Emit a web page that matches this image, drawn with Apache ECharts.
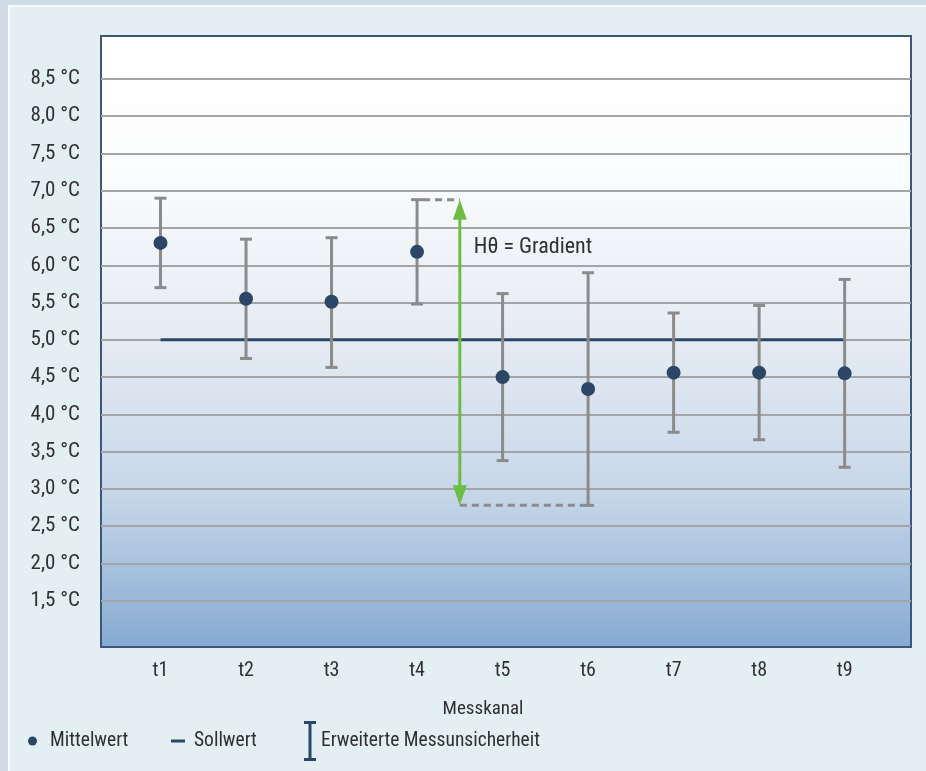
<!DOCTYPE html>
<html>
<head>
<meta charset="utf-8">
<script src="https://cdn.jsdelivr.net/npm/echarts@6/dist/echarts.min.js"></script>
<style>
  html, body { margin: 0; padding: 0; width: 926px; height: 771px; overflow: hidden; background: #cfdce5; }
  #panel { position: absolute; left: 8px; top: 5px; right: 0; bottom: 0; background: #e4eff4;
           border-left: 2px solid #f8fbfd; border-top: 2px solid #f8fbfd; }
  #chart { position: absolute; left: 0; top: 0; width: 926px; height: 771px; }
</style>
</head>
<body>
<div id="panel"></div>
<div id="chart"></div>
<script>
// Messkanäle und Messwerte (°C)
const channels = ['t1', 't2', 't3', 't4', 't5', 't6', 't7', 't8', 't9'];
const meanValues  = [6.30, 5.55, 5.51, 6.18, 4.50, 4.34, 4.56, 4.56, 4.55];
const upperLimits = [6.90, 6.35, 6.37, 6.88, 5.62, 5.90, 5.36, 5.46, 5.81];
const lowerLimits = [5.70, 4.75, 4.63, 5.48, 3.38, 2.78, 3.76, 3.66, 3.29];
const setpoint = 5.0;
const yTicks = [1.5, 2.0, 2.5, 3.0, 3.5, 4.0, 4.5, 5.0, 5.5, 6.0, 6.5, 7.0, 7.5, 8.0, 8.5];
// Gradient: vom oberen Ende bei t4 bis zum unteren Ende bei t6
const gradientFrom = 't4';
const gradientTo = 't6';

const FONT = "'Roboto Condensed', 'Liberation Sans Narrow', 'DejaVu Sans Condensed', sans-serif";
const NAVY = '#2b4667';
const BAR_GRAY = '#8b8b8b';
const GREEN = '#6cbd44';
const TEXT = '#303030';

const xPos = channels.map((c, i) => i + 1);
const fromIdx = channels.indexOf(gradientFrom);
const toIdx = channels.indexOf(gradientTo);

const chart = echarts.init(document.getElementById('chart'), null, { renderer: 'canvas' });

function fmtC(v) {
  return v.toFixed(1).replace('.', ',') + ' °C';
}

const legendText = { color: TEXT, fontSize: 19.5, fontFamily: FONT };

const option = {
  animation: false,
  backgroundColor: 'transparent',
  textStyle: { fontFamily: FONT },
  grid: {
    left: 101, right: 15, top: 36, bottom: 124,
    show: true,
    borderColor: '#3d5779',
    borderWidth: 2,
    backgroundColor: new echarts.graphic.LinearGradient(0, 0, 0, 1, [
      { offset: 0, color: '#ffffff' },
      { offset: 0.2, color: '#fcfdfe' },
      { offset: 0.5, color: '#e5ebf3' },
      { offset: 0.75, color: '#c6d6e8' },
      { offset: 1, color: '#86aad2' }
    ])
  },
  xAxis: {
    type: 'value',
    min: 0.304,
    max: 9.776,
    axisLine: { show: false },
    axisTick: { show: false },
    splitLine: { show: false },
    axisLabel: {
      customValues: xPos,
      formatter: v => channels[Math.round(v) - 1] || '',
      color: TEXT,
      fontSize: 20,
      fontFamily: FONT,
      margin: 14
    },
    name: 'Messkanal',
    nameLocation: 'middle',
    nameGap: 53,
    nameTextStyle: { color: TEXT, fontSize: 19, fontFamily: FONT, padding: [0, 46, 0, 0] }
  },
  yAxis: {
    type: 'value',
    min: 0.88,
    max: 9.075,
    axisLine: { show: false },
    axisTick: { show: false, customValues: yTicks },
    splitLine: { show: true, lineStyle: { color: '#a2a4a7', width: 2 } },
    axisLabel: {
      customValues: yTicks,
      formatter: fmtC,
      color: TEXT,
      fontSize: 21,
      fontFamily: FONT,
      margin: 21
    }
  },
  legend: [
    {
      left: 28, top: 731, padding: 0, selectedMode: false,
      itemWidth: 9, itemHeight: 9,
      data: [{ name: 'Mittelwert', icon: 'circle', itemStyle: { color: NAVY } }],
      textStyle: Object.assign({ padding: [0, 0, 0, 8] }, legendText)
    },
    {
      left: 171, top: 731, padding: 0, selectedMode: false,
      itemWidth: 14, itemHeight: 3,
      data: [{ name: 'Sollwert', icon: 'rect', itemStyle: { color: NAVY } }],
      textStyle: Object.assign({ padding: [0, 0, 0, 4] }, legendText)
    },
    {
      left: 304, top: 721, padding: 0, selectedMode: false,
      itemWidth: 12, itemHeight: 40,
      data: [{
        name: 'Erweiterte Messunsicherheit',
        icon: 'path://M0,0H12V3H7.5V37H12V40H0V37H4.5V3H0Z',
        itemStyle: { color: NAVY }
      }],
      textStyle: legendText
    }
  ],
  series: [
    {
      name: 'Sollwert',
      type: 'line',
      z: 2,
      symbol: 'none',
      lineStyle: { color: NAVY, width: 3 },
      itemStyle: { color: NAVY },
      data: [[xPos[0], setpoint], [xPos[xPos.length - 1], setpoint]]
    },
    {
      name: 'Erweiterte Messunsicherheit',
      type: 'custom',
      z: 3,
      itemStyle: { color: BAR_GRAY },
      encode: { x: 0, y: [1, 2] },
      data: xPos.map((x, i) => [x, lowerLimits[i], upperLimits[i]]),
      renderItem: function (params, api) {
        const x = api.value(0);
        const top = api.coord([x, api.value(2)]);
        const bot = api.coord([x, api.value(1)]);
        const half = 6;
        const style = { stroke: BAR_GRAY, lineWidth: 3 };
        return {
          type: 'group',
          children: [
            { type: 'line', shape: { x1: top[0], y1: top[1], x2: bot[0], y2: bot[1] }, style },
            { type: 'line', shape: { x1: top[0] - half, y1: top[1], x2: top[0] + half, y2: top[1] }, style },
            { type: 'line', shape: { x1: bot[0] - half, y1: bot[1], x2: bot[0] + half, y2: bot[1] }, style }
          ]
        };
      }
    },
    {
      name: 'Mittelwert',
      type: 'scatter',
      z: 4,
      symbol: 'circle',
      symbolSize: 14,
      itemStyle: { color: NAVY, opacity: 1 },
      data: xPos.map((x, i) => [x, meanValues[i]])
    },
    {
      name: 'Gradient',
      type: 'custom',
      z: 5,
      silent: true,
      encode: { x: [0, 3, 4], y: [1, 2] },
      // [Pfeilposition, oberer Wert, unterer Wert, Kanal oben, Kanal unten]
      data: [[xPos[fromIdx] + 0.5, upperLimits[fromIdx], lowerLimits[toIdx], xPos[fromIdx], xPos[toIdx]]],
      renderItem: function (params, api) {
        const ax = api.value(0);
        const top = api.coord([ax, api.value(1)]);
        const bot = api.coord([ax, api.value(2)]);
        const leftEnd = api.coord([api.value(3), api.value(1)]);
        const rightEnd = api.coord([api.value(4), api.value(2)]);
        const capHalf = 6;
        const headLen = 20, headHalf = 7;
        const dash = { stroke: BAR_GRAY, lineWidth: 3, lineDash: [7, 5] };
        return {
          type: 'group',
          children: [
            { type: 'line', shape: { x1: leftEnd[0] + capHalf, y1: top[1], x2: top[0], y2: top[1] }, style: dash },
            { type: 'line', shape: { x1: bot[0], y1: bot[1], x2: rightEnd[0] - capHalf, y2: bot[1] }, style: dash },
            { type: 'line', shape: { x1: top[0], y1: top[1] + headLen - 2, x2: bot[0], y2: bot[1] - headLen + 2 },
              style: { stroke: GREEN, lineWidth: 3 } },
            { type: 'polygon', shape: { points: [[top[0], top[1]], [top[0] - headHalf, top[1] + headLen], [top[0] + headHalf, top[1] + headLen]] },
              style: { fill: GREEN } },
            { type: 'polygon', shape: { points: [[bot[0], bot[1]], [bot[0] - headHalf, bot[1] - headLen], [bot[0] + headHalf, bot[1] - headLen]] },
              style: { fill: GREEN } },
            { type: 'text', x: top[0] + 14, y: top[1] + 48,
              style: { text: 'Hθ = Gradient', fill: TEXT, font: '22px ' + FONT, verticalAlign: 'middle', align: 'left' } }
          ]
        };
      }
    }
  ]
};

chart.setOption(option);
</script>
</body>
</html>
